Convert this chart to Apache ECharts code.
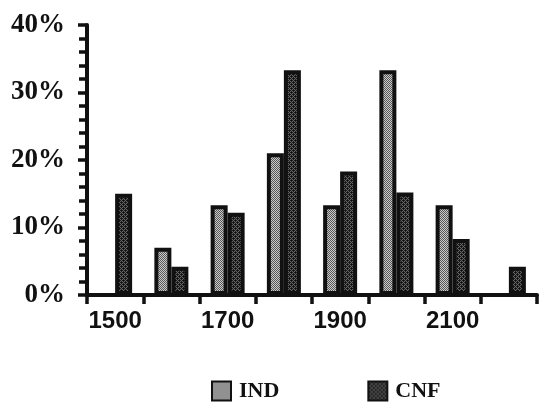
<!DOCTYPE html>
<html>
<head>
<meta charset="utf-8">
<script src="https://cdn.jsdelivr.net/npm/echarts@6/dist/echarts.min.js"></script>
<style>html,body{margin:0;padding:0;background:#fff;}#c{width:540px;height:402px;}</style>
</head>
<body>
<div id="c"></div>
<script>
const categories = ['1500','1600','1700','1800','1900','2000','2100','2200'];
const indValues = [0, 7, 13.3, 21, 13.3, 33.3, 13.3, 0];
const cnfValues = [15, 4.2, 12.2, 33.3, 18.3, 15.2, 8.3, 4.2];
const yTicks = [0, 10, 20, 30, 40];

function makePattern(base, dot, dot2) {
  const c = document.createElement('canvas');
  c.width = 4; c.height = 4;
  const g = c.getContext('2d');
  g.fillStyle = base; g.fillRect(0, 0, 4, 4);
  g.fillStyle = dot;
  for (let y = 0; y < 4; y++) for (let x = 0; x < 4; x++) {
    if ((x + y) % 2 === 0) g.fillRect(x, y, 1, 1);
  }
  if (dot2) { g.fillStyle = dot2; g.fillRect(1, 2, 1, 1); g.fillRect(3, 0, 1, 1); }
  return c;
}
const indPat = makePattern('#cacaca', '#585858');
const cnfPat = makePattern('#666', '#1e1e1e', '#0a0a0a');

const chart = echarts.init(document.getElementById('c'));
chart.setOption({
  animation: false,
  backgroundColor: '#fff',
  grid: { left: 87, right: 3, top: 25, bottom: 107, containLabel: false },
  legend: {
    data: ['IND', 'CNF'],
    left: 206, top: 375,
    itemWidth: 19, itemHeight: 19, itemGap: 88,
    icon: 'rect',
    textStyle: { fontFamily: 'Liberation Serif', fontWeight: 'bold', fontSize: 22, color: '#111', padding: [2, 0, 0, 3] }
  },
  xAxis: {
    type: 'category',
    data: categories,
    boundaryGap: true,
    axisLine: { show: true, lineStyle: { color: '#111', width: 4 } },
    axisTick: { show: true, interval: 0, length: 9, lineStyle: { color: '#111', width: 3.5 } },
    axisLabel: { interval: 1, margin: 14, fontFamily: 'Liberation Sans', fontWeight: 'bold', fontSize: 24, color: '#111' },
    splitLine: { show: false }
  },
  yAxis: {
    type: 'value',
    min: yTicks[0], max: yTicks[yTicks.length - 1], interval: 10,
    axisLine: { show: true, lineStyle: { color: '#111', width: 4 } },
    axisTick: { show: true, length: 9, lineStyle: { color: '#111', width: 3.5 } },
    minorTick: { show: true, splitNumber: 5, length: 8, lineStyle: { color: '#111', width: 3.5 } },
    axisLabel: { formatter: '{value}%', margin: 22, fontFamily: 'Liberation Serif', fontWeight: 'bold', fontSize: 27, color: '#111' },
    splitLine: { show: false }
  },
  series: [
    {
      name: 'IND', type: 'bar', data: indValues,
      barWidth: 17, barGap: '0%',
      itemStyle: { color: { image: indPat, repeat: 'repeat' }, borderColor: '#111', borderWidth: 4 }
    },
    {
      name: 'CNF', type: 'bar', data: cnfValues,
      barWidth: 17,
      itemStyle: { color: { image: cnfPat, repeat: 'repeat' }, borderColor: '#111', borderWidth: 4 }
    }
  ]
});
</script>
</body>
</html>
